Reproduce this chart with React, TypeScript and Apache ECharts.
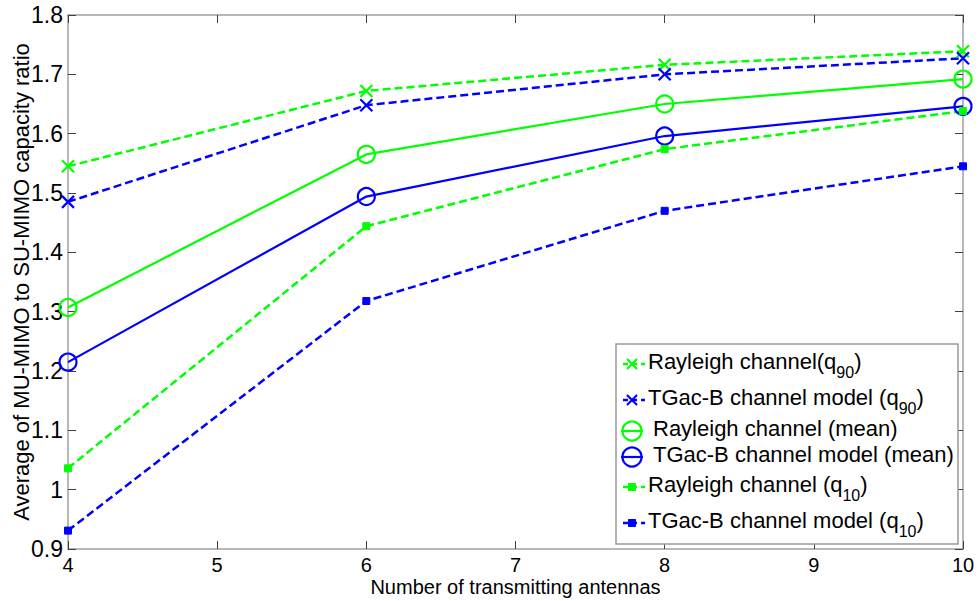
import React, { useEffect, useRef } from "react";
import * as echarts from "echarts";

const antennas = [4, 6, 8, 10];
const rayleighQ90 = [1.545, 1.672, 1.716, 1.739];
const tgacQ90 = [1.485, 1.648, 1.7, 1.727];
const rayleighMean = [1.307, 1.565, 1.65, 1.692];
const tgacMean = [1.215, 1.494, 1.596, 1.646];
const rayleighQ10 = [1.036, 1.444, 1.574, 1.638];
const tgacQ10 = [0.931, 1.318, 1.47, 1.545];

const xTitle = "Number of transmitting antennas";
const yTitle = "Average of MU-MIMO to SU-MIMO capacity ratio";

const legendMain = [
  "Rayleigh channel(q",
  "TGac-B channel model (q",
  "Rayleigh channel (mean)",
  "TGac-B channel model (mean)",
  "Rayleigh channel (q",
  "TGac-B channel model (q",
];
const legendSub = ["90", "90", "", "", "10", "10"];

const GREEN = "#00ff00";
const BLUE = "#0000ff";
const FONT = "'Liberation Sans', Arial, Helvetica, sans-serif";
const CROSS = "path://M0,0L10,10M10,0L0,10";

function pairs(ys: number[]) {
  return antennas.map((x, i) => [x, ys[i]]);
}

export default function App() {
  const ref = useRef<HTMLDivElement>(null);
  useEffect(() => {
    if (!ref.current) return;
    const chart = echarts.init(ref.current, null, { renderer: "svg" });

    const mk = (
      name: string,
      ys: number[],
      color: string,
      kind: "cross" | "circle" | "square"
    ) => {
      const dashed = kind !== "circle";
      return {
        name,
        type: "line",
        data: pairs(ys),
        xAxisIndex: 0,
        yAxisIndex: 0,
        symbol: kind === "cross" ? CROSS : kind === "circle" ? "circle" : "rect",
        symbolSize: kind === "cross" ? 12 : kind === "circle" ? 17 : 7,
        showSymbol: true,
        lineStyle: {
          color,
          width: dashed ? 2.5 : 2.2,
          type: dashed ? [8, 4] : "solid",
        },
        itemStyle: {
          color: kind === "circle" ? "rgba(0,0,0,0)" : color,
          borderColor: color,
          borderWidth: kind === "square" ? 1 : 2.2,
        },
        emphasis: { disabled: true },
        z: 3,
      };
    };

    const legendY = [364, 400, 431, 457, 487, 523];
    const legendKinds: ("cross" | "circle" | "square")[] = [
      "cross",
      "cross",
      "circle",
      "circle",
      "square",
      "square",
    ];
    const legendColors = [GREEN, BLUE, GREEN, BLUE, GREEN, BLUE];

    const graphics: any[] = [
      {
        type: "rect",
        shape: { x: 616, y: 344, width: 342, height: 200 },
        style: { fill: "#ffffff", stroke: "#999999", lineWidth: 1.5 },
        z: 100,
      },
    ];
    legendMain.forEach((txt, i) => {
      const y = legendY[i];
      const c = legendColors[i];
      const kind = legendKinds[i];
      const sx = 632;
      if (kind === "circle") {
        graphics.push({
          type: "line",
          shape: { x1: 621, y1: y, x2: 643, y2: y },
          style: { stroke: c, lineWidth: 2.2 },
          z: 101,
        });
        graphics.push({
          type: "circle",
          shape: { cx: sx, cy: y, r: 9.5 },
          style: { fill: "none", stroke: c, lineWidth: 2.2 },
          z: 101,
        });
      } else {
        graphics.push({
          type: "line",
          shape: { x1: 623, y1: y, x2: 645, y2: y },
          style: { stroke: c, lineWidth: 2.5, lineDash: [5, 4] },
          z: 101,
        });
        if (kind === "cross") {
          graphics.push({
            type: "line",
            shape: { x1: sx - 5, y1: y - 5, x2: sx + 5, y2: y + 5 },
            style: { stroke: c, lineWidth: 2.2 },
            z: 101,
          });
          graphics.push({
            type: "line",
            shape: { x1: sx - 5, y1: y + 5, x2: sx + 5, y2: y - 5 },
            style: { stroke: c, lineWidth: 2.2 },
            z: 101,
          });
        } else {
          graphics.push({
            type: "rect",
            shape: { x: sx - 3.5, y: y - 3.5, width: 7, height: 7 },
            style: { fill: c, stroke: c, lineWidth: 1 },
            z: 101,
          });
        }
      }
      const tx = kind === "circle" ? 653 : 648;
      const sub = legendSub[i];
      const textY = y - 3;
      graphics.push({
        type: "text",
        x: tx,
        y: textY,
        style: {
          text: sub ? `{a|${txt}}{s|${sub}}{a|)}` : `{a|${txt}}`,
          rich: {
            a: { fontSize: 22, fontFamily: FONT, fill: "#000", lineHeight: 24 },
            s: {
              fontSize: 16,
              fontFamily: FONT,
              fill: "#000",
              lineHeight: 16,
              padding: [22, 0, 0, 0],
            },
          },
          fontSize: 22,
          fontFamily: FONT,
          fill: "#000",
          align: "left",
          verticalAlign: "middle",
        },
        z: 102,
      });
    });

    const axisLineStyle = { color: "#a0a0a0", width: 1.5 };
    const tickStyle = { color: "#404040", width: 1 };

    chart.setOption({
      animation: false,
      backgroundColor: "#ffffff",
      textStyle: { fontFamily: FONT },
      grid: {
        left: 68,
        right: 16,
        top: 15,
        bottom: 52,
        containLabel: false,
        outerBoundsMode: "none",
      },
      xAxis: [
        {
          type: "value",
          min: 4,
          max: 10,
          interval: 1,
          position: "bottom",
          name: xTitle,
          nameLocation: "middle",
          nameGap: 28,
          nameMoveOverlap: false,
          nameTextStyle: { fontSize: 20, color: "#000", fontFamily: FONT },
          axisLine: { show: true, lineStyle: axisLineStyle },
          axisTick: { show: true, inside: true, length: 8, lineStyle: tickStyle },
          axisLabel: { fontSize: 20, color: "#000", margin: 6, fontFamily: FONT },
          splitLine: { show: false },
        },
        {
          type: "value",
          min: 4,
          max: 10,
          interval: 1,
          position: "top",
          axisLine: { show: true, lineStyle: axisLineStyle },
          axisTick: { show: true, inside: true, length: 8, lineStyle: tickStyle },
          axisLabel: { show: false },
          splitLine: { show: false },
        },
      ],
      yAxis: [
        {
          type: "value",
          min: 0.9,
          max: 1.8,
          interval: 0.1,
          position: "left",
          name: yTitle,
          nameLocation: "middle",
          nameGap: 36,
          nameMoveOverlap: false,
          nameRotate: 90,
          nameTextStyle: { fontSize: 22, color: "#000", fontFamily: FONT },
          axisLine: { show: true, lineStyle: axisLineStyle },
          axisTick: { show: true, inside: true, length: 8, lineStyle: tickStyle },
          axisLabel: {
            fontSize: 23,
            color: "#000",
            margin: 5,
            fontFamily: FONT,
            formatter: (v: number) => String(Math.round(v * 10) / 10),
          },
          splitLine: { show: false },
        },
        {
          type: "value",
          min: 0.9,
          max: 1.8,
          interval: 0.1,
          position: "right",
          axisLine: { show: true, lineStyle: axisLineStyle },
          axisTick: { show: true, inside: true, length: 8, lineStyle: tickStyle },
          axisLabel: { show: false },
          splitLine: { show: false },
        },
      ],
      series: [
        mk("Rayleigh channel(q90)", rayleighQ90, GREEN, "cross"),
        mk("TGac-B channel model (q90)", tgacQ90, BLUE, "cross"),
        mk("Rayleigh channel (mean)", rayleighMean, GREEN, "circle"),
        mk("TGac-B channel model (mean)", tgacMean, BLUE, "circle"),
        mk("Rayleigh channel (q10)", rayleighQ10, GREEN, "square"),
        mk("TGac-B channel model (q10)", tgacQ10, BLUE, "square"),
      ],
      graphic: graphics,
    });
    return () => chart.dispose();
  }, []);

  return (
    <div
      ref={ref}
      style={{ position: "fixed", left: 0, top: 0, width: 979, height: 601, background: "#fff" }}
    />
  );
}
